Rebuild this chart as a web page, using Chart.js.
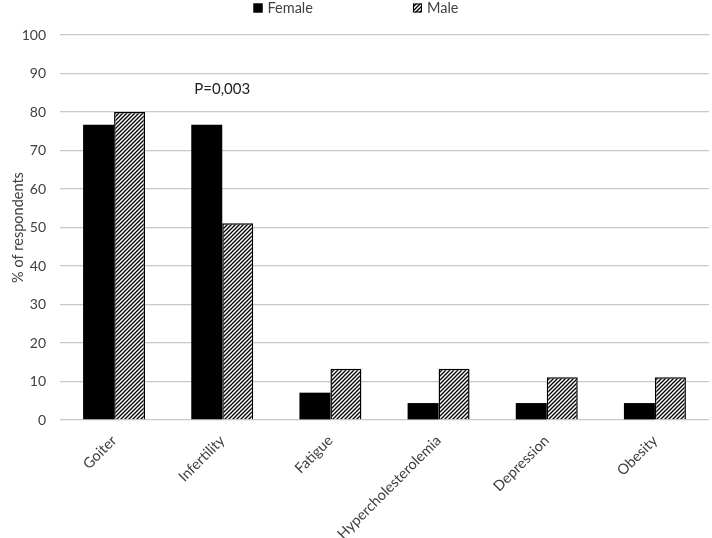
<!DOCTYPE html>
<html>
<head>
<meta charset="utf-8">
<script src="https://cdn.jsdelivr.net/npm/chart.js@4/dist/chart.umd.min.js"></script>
<style>
  body { margin: 0; background: #fff; }
  #wrap { width: 712px; height: 538px; }
</style>
</head>
<body>
<div id="wrap"><canvas id="barChart" width="712" height="538"></canvas></div>
<script>
/*------------------------------------
* Data
------------------------------------ */
var categories = ["Goiter", "Infertility", "Fatigue", "Hypercholesterolemia", "Depression", "Obesity"];
var female = [76.7, 76.7, 7.1, 4.4, 4.4, 4.4];
var male = [80, 51.1, 13.3, 13.3, 11.1, 11.1];
var yTicks = [0, 10, 20, 30, 40, 50, 60, 70, 80, 90, 100];
var note = { label: "P=0,003", category: 1, value: 86 };

var FONT = "Lato, 'Open Sans', sans-serif";
var TXT = "#404040";

// diagonal hatch for the Male bars
function hatch() {
  var s = 4;
  var c = document.createElement("canvas");
  c.width = s;
  c.height = s;
  var g = c.getContext("2d");
  g.fillStyle = "#fff";
  g.fillRect(0, 0, s, s);
  g.strokeStyle = "#000";
  g.lineWidth = 1.3;
  g.beginPath();
  g.moveTo(-1, s + 1); g.lineTo(s + 1, -1);
  g.moveTo(-1, 1); g.lineTo(1, -1);
  g.moveTo(s - 1, s + 1); g.lineTo(s + 1, s - 1);
  g.stroke();
  return g.createPattern(c, "repeat");
}
var malePattern = hatch();

/*------------------------------------
* Plugins: legend row + p-value note
------------------------------------ */
var legendRow = {
  id: "legendRow",
  afterDraw: function (chart) {
    var ctx = chart.ctx;
    var sets = chart.data.datasets;
    var box = 9, gap = 5, between = 100;
    ctx.save();
    ctx.font = "14.5px " + FONT;
    var widths = sets.map(function (ds) { return box + gap + ctx.measureText(ds.label).width; });
    var total = widths[0] + between + widths[1];
    var x = chart.width / 2 - total / 2;
    var y = 8;
    sets.forEach(function (ds, i) {
      ctx.fillStyle = ds.backgroundColor;
      ctx.fillRect(x, y - box / 2, box, box);
      ctx.strokeStyle = "#000";
      ctx.lineWidth = 1;
      ctx.strokeRect(x + 0.5, y - box / 2 + 0.5, box - 1, box - 1);
      ctx.fillStyle = TXT;
      ctx.textAlign = "left";
      ctx.textBaseline = "middle";
      ctx.fillText(ds.label, x + box + gap, y);
      x += widths[i] + between;
    });
    ctx.restore();
  }
};

var notePlugin = {
  id: "note",
  afterDatasetsDraw: function (chart) {
    var ctx = chart.ctx;
    var x = chart.scales.x.getPixelForValue(note.category);
    var y = chart.scales.y.getPixelForValue(note.value);
    ctx.save();
    ctx.font = "15px " + FONT;
    ctx.fillStyle = "#222";
    ctx.textAlign = "center";
    ctx.textBaseline = "middle";
    ctx.fillText(note.label, x, y);
    ctx.restore();
  }
};

/*------------------------------------
* Chart
------------------------------------ */
var ChartB = new Chart(document.getElementById("barChart"), {
  type: "bar",
  data: {
    labels: categories,
    datasets: [
      {
        label: "Female",
        data: female,
        backgroundColor: "#000",
        borderColor: "#000",
        borderWidth: 0,
      },
      {
        label: "Male",
        data: male,
        backgroundColor: malePattern,
        borderColor: "#000",
        borderWidth: 1.5,
        borderSkipped: "bottom",
      },
    ],
  },
  options: {
    responsive: false,
    animation: false,
    layout: { padding: { left: 8, right: 3, top: 35, bottom: 0 } },
    datasets: {
      bar: { categoryPercentage: 0.573, barPercentage: 1 },
    },
    plugins: {
      tooltip: { enabled: false },
      legend: { display: false },
    },
    scales: {
      x: {
        grid: { display: false },
        border: { display: false },
        afterFit: function (scale) { scale.height = 118; },
        ticks: {
          color: TXT,
          font: { family: FONT, size: 14.5 },
          minRotation: 45,
          maxRotation: 45,
          padding: 4,
        },
      },
      y: {
        min: 0,
        max: 100,
        afterBuildTicks: function (scale) {
          scale.ticks = yTicks.map(function (v) { return { value: v }; });
        },
        afterFit: function (scale) { scale.width = 52; },
        grid: { color: "#c8c8c8", lineWidth: 1.3, drawTicks: false },
        border: { display: false },
        ticks: {
          color: TXT,
          font: { family: FONT, size: 14 },
          padding: 14,
        },
        title: {
          display: true,
          text: "% of respondents",
          color: TXT,
          font: { family: FONT, size: 14.5 },
          padding: 2,
        },
      },
    },
  },
  plugins: [notePlugin, legendRow],
});
</script>
</body>
</html>
